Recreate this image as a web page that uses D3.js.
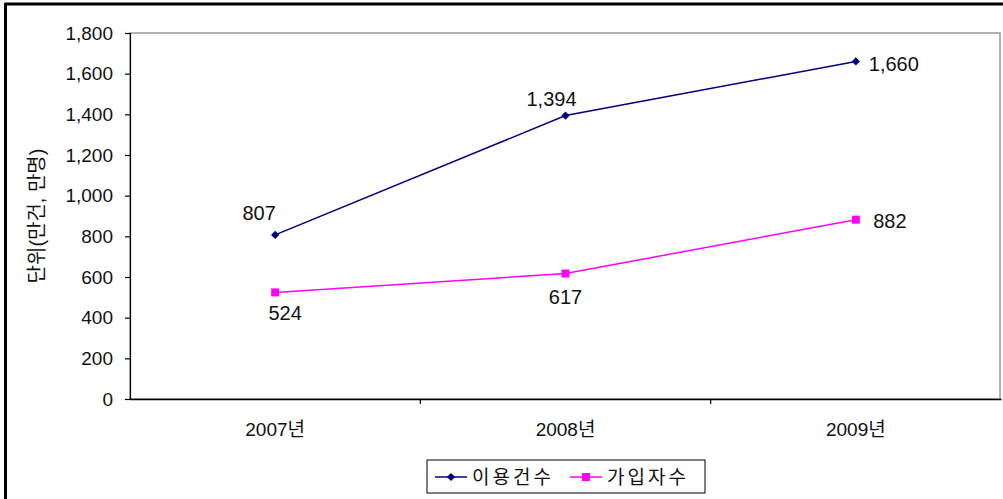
<!DOCTYPE html>
<html>
<head>
<meta charset="utf-8">
<script src="https://cdn.jsdelivr.net/npm/d3@7"></script>
<style>
  body { margin: 0; background: #fff; }
  text { font-family: "Liberation Sans", "Noto Sans CJK KR", sans-serif; fill: #111; }
</style>
</head>
<body>
<svg id="chart"></svg>
<script>
// Chart data
const years = ["2007년", "2008년", "2009년"];
const usageCounts = [807, 1394, 1660];   // 이용건수
const subscribers = [524, 617, 882];     // 가입자수
const yTicks = [0, 200, 400, 600, 800, 1000, 1200, 1400, 1600, 1800];

const dims = {
    width: 1003,
    height: 499,
    left: 130,
    right: 1001,
    top: 33,
    bottom: 399
};

const svg = d3.select("#chart")
    .attr("width", dims.width)
    .attr("height", dims.height);

// Outer frame (only top and left are visible in the picture)
svg.append("line").attr("x1", 5).attr("x2", dims.width).attr("y1", 4).attr("y2", 4)
    .attr("stroke", "#000").attr("stroke-width", 3);
svg.append("line").attr("x1", 5.5).attr("x2", 5.5).attr("y1", 3).attr("y2", dims.height)
    .attr("stroke", "#000").attr("stroke-width", 3);

const x = d3.scaleBand()
    .domain(years)
    .range([dims.left, dims.right]);

const y = d3.scaleLinear()
    .domain([0, 1800])
    .range([dims.bottom, dims.top]);

// Plot area border
svg.append("rect")
    .attr("x", dims.left).attr("y", dims.top)
    .attr("width", dims.right - dims.left - 1)
    .attr("height", dims.bottom - dims.top)
    .attr("fill", "none").attr("stroke", "#999").attr("stroke-width", 1.5);

// y axis
svg.append("g")
    .attr("transform", `translate(${dims.left},0)`)
    .call(d3.axisLeft(y).tickValues(yTicks).tickSize(5).tickPadding(12)
        .tickFormat(d3.format(",")))
    .call(g => g.selectAll("path, line").attr("stroke", "#000").attr("stroke-width", 1.2))
    .call(g => g.selectAll("text").style("font-size", "19px"));

// x axis, ticks sit between categories
const xAxisG = svg.append("g")
    .attr("transform", `translate(0,${dims.bottom})`)
    .call(d3.axisBottom(x).tickSize(0).tickPadding(24))
    .call(g => g.selectAll("path").attr("stroke", "#000").attr("stroke-width", 1.5))
    .call(g => g.selectAll("text").style("font-size", "19px"));
xAxisG.selectAll(".sep")
    .data(years.slice(1))
    .join("line")
    .attr("x1", d => x(d)).attr("x2", d => x(d))
    .attr("y1", 0).attr("y2", 5)
    .attr("stroke", "#000").attr("stroke-width", 1.2);

// Axis title
svg.append("text")
    .attr("transform", `translate(44,${(dims.top + dims.bottom) / 2}) rotate(-90)`)
    .attr("text-anchor", "middle")
    .style("font-size", "20px")
    .text("단위(만건, 만명)");

const cx = d => x(d) + x.bandwidth() / 2;

const line = d3.line()
    .x((d, i) => cx(years[i]))
    .y(d => y(d));

// diamond marker: a square turned 45 degrees
const diamond = d3.symbol(d3.symbolSquare, 34);

// 이용건수 series
svg.append("path")
    .datum(usageCounts)
    .attr("fill", "none")
    .attr("stroke", "#000080")
    .attr("stroke-width", 1.5)
    .attr("d", line);

svg.selectAll(".dia")
    .data(usageCounts)
    .join("path")
    .attr("transform", (d, i) => `translate(${cx(years[i])},${y(d)}) rotate(45)`)
    .attr("d", diamond)
    .attr("fill", "#000080");

// 가입자수 series
svg.append("path")
    .datum(subscribers)
    .attr("fill", "none")
    .attr("stroke", "#ff00ff")
    .attr("stroke-width", 1.5)
    .attr("d", line);

svg.selectAll(".sq")
    .data(subscribers)
    .join("rect")
    .attr("x", (d, i) => cx(years[i]) - 4)
    .attr("y", d => y(d) - 4)
    .attr("width", 8).attr("height", 8)
    .attr("fill", "#ff00ff");

// Data labels
const usageOffsets = [[-16, -15], [-14, -10], [38, 10]];
const subOffsets = [[10, 28], [0, 30], [34, 8]];
const fmt = d3.format(",");

svg.selectAll(".ulab")
    .data(usageCounts)
    .join("text")
    .attr("x", (d, i) => cx(years[i]) + usageOffsets[i][0])
    .attr("y", (d, i) => y(d) + usageOffsets[i][1])
    .attr("text-anchor", "middle")
    .style("font-size", "20px")
    .text(d => fmt(d));

svg.selectAll(".slab")
    .data(subscribers)
    .join("text")
    .attr("x", (d, i) => cx(years[i]) + subOffsets[i][0])
    .attr("y", (d, i) => y(d) + subOffsets[i][1])
    .attr("text-anchor", "middle")
    .style("font-size", "20px")
    .text(d => fmt(d));

// Legend
const legend = svg.append("g").attr("transform", "translate(427,460)");
legend.append("rect")
    .attr("width", 278).attr("height", 33)
    .attr("fill", "#fff").attr("stroke", "#000").attr("stroke-width", 1);

legend.append("line").attr("x1", 8).attr("x2", 40).attr("y1", 17).attr("y2", 17)
    .attr("stroke", "#000080").attr("stroke-width", 1.5);
legend.append("path").attr("transform", "translate(24,17) rotate(45)")
    .attr("d", diamond).attr("fill", "#000080");
legend.append("text").attr("x", 45).attr("y", 24)
    .style("font-size", "19px").style("letter-spacing", "3px").text("이용건수");

legend.append("line").attr("x1", 143).attr("x2", 175).attr("y1", 17).attr("y2", 17)
    .attr("stroke", "#ff00ff").attr("stroke-width", 1.5);
legend.append("rect").attr("x", 155).attr("y", 13).attr("width", 8).attr("height", 8)
    .attr("fill", "#ff00ff");
legend.append("text").attr("x", 180).attr("y", 24)
    .style("font-size", "19px").style("letter-spacing", "3px").text("가입자수");
</script>
</body>
</html>
